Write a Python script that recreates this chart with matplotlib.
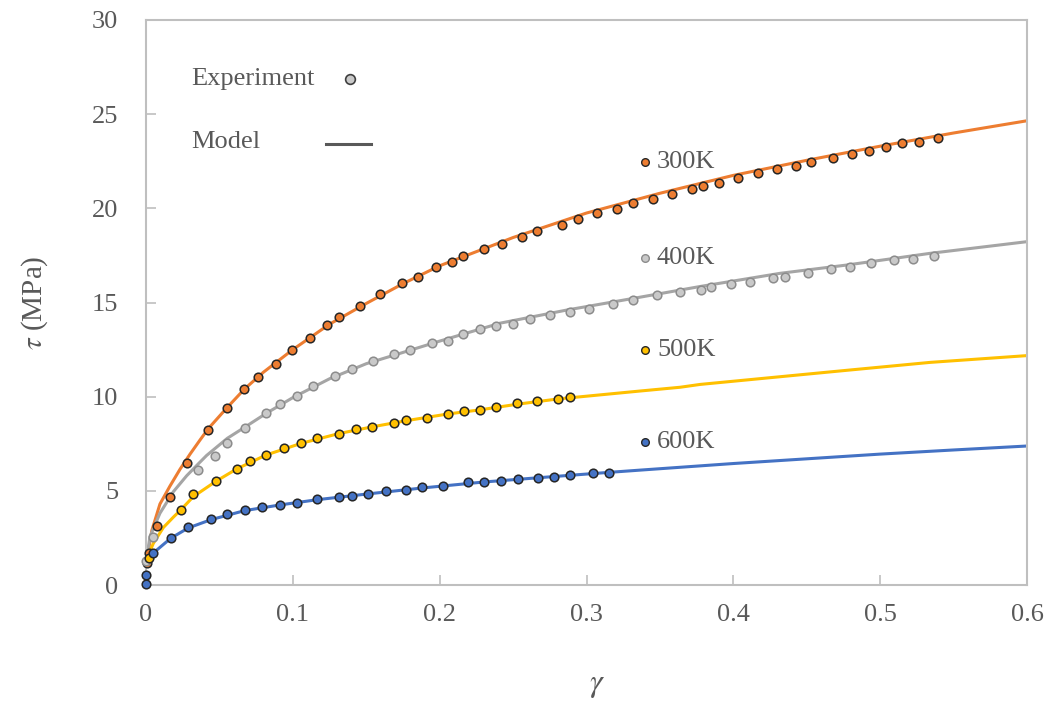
import matplotlib
matplotlib.use("Agg")
import matplotlib.pyplot as plt

# ---- experimental data (gamma, tau in MPa) ----
exp_300_x = [0.0005, 0.002, 0.0077, 0.0161, 0.0279, 0.0424, 0.0554, 0.0666, 0.0763, 0.0884,
             0.0995, 0.1115, 0.1233, 0.1317, 0.1460, 0.1594, 0.1746, 0.1855, 0.1974, 0.2082,
             0.2162, 0.2302, 0.2423, 0.2561, 0.2666, 0.2834, 0.2945, 0.3072, 0.3208, 0.3317,
             0.3456, 0.3583, 0.3719, 0.3792, 0.3903, 0.4033, 0.4167, 0.4296, 0.4426, 0.4528,
             0.4680, 0.4809, 0.4921, 0.5041, 0.5150, 0.5266, 0.5395]
exp_300_y = [1.15, 1.72, 3.12, 4.67, 6.48, 8.23, 9.41, 10.42, 11.04, 11.73,
             12.46, 13.10, 13.82, 14.25, 14.81, 15.45, 16.04, 16.37, 16.89, 17.17,
             17.47, 17.82, 18.11, 18.46, 18.81, 19.10, 19.45, 19.73, 19.96, 20.27,
             20.48, 20.74, 21.01, 21.17, 21.33, 21.59, 21.89, 22.09, 22.25, 22.46,
             22.67, 22.89, 23.04, 23.24, 23.45, 23.52, 23.73]

exp_400_x = [0.0, 0.005, 0.0352, 0.0472, 0.0554, 0.0677, 0.0820, 0.0913, 0.1031, 0.1140,
             0.1285, 0.1403, 0.1544, 0.1689, 0.1799, 0.1946, 0.2055, 0.2162, 0.2275, 0.2386,
             0.2502, 0.2616, 0.2750, 0.2888, 0.3016, 0.3181, 0.3320, 0.3483, 0.3640, 0.3779,
             0.3849, 0.3985, 0.4114, 0.4273, 0.4353, 0.4507, 0.4664, 0.4793, 0.4939, 0.5093,
             0.5223, 0.5368]
exp_400_y = [1.25, 2.54, 6.11, 6.83, 7.54, 8.35, 9.11, 9.61, 10.04, 10.58,
             11.10, 11.47, 11.89, 12.25, 12.47, 12.83, 12.97, 13.33, 13.59, 13.75,
             13.84, 14.12, 14.34, 14.48, 14.67, 14.90, 15.12, 15.40, 15.56, 15.66,
             15.81, 15.97, 16.11, 16.32, 16.37, 16.55, 16.76, 16.89, 17.10, 17.24,
             17.31, 17.47]

exp_500_x = [0.0023, 0.0235, 0.0322, 0.0475, 0.0617, 0.0708, 0.0817, 0.0937, 0.1056, 0.1167,
             0.1313, 0.1433, 0.1542, 0.1689, 0.1769, 0.1916, 0.2055, 0.2164, 0.2275, 0.2386,
             0.2529, 0.2666, 0.2807, 0.2888]
exp_500_y = [1.44, 3.98, 4.83, 5.54, 6.16, 6.60, 6.90, 7.25, 7.54, 7.81,
             8.04, 8.27, 8.39, 8.60, 8.74, 8.89, 9.10, 9.24, 9.31, 9.47,
             9.68, 9.75, 9.89, 9.98]

exp_600_x = [0.0, 0.0002, 0.005, 0.0168, 0.0288, 0.0443, 0.0554, 0.0672, 0.0792, 0.0912,
             0.1031, 0.1167, 0.1313, 0.1403, 0.1515, 0.1633, 0.1769, 0.1880, 0.2025, 0.2193,
             0.2302, 0.2420, 0.2532, 0.2668, 0.2779, 0.2888, 0.3043, 0.3152]
exp_600_y = [0.05, 0.55, 1.69, 2.48, 3.06, 3.49, 3.75, 3.97, 4.13, 4.25,
             4.34, 4.55, 4.69, 4.74, 4.83, 4.97, 5.04, 5.19, 5.26, 5.47,
             5.47, 5.54, 5.61, 5.68, 5.75, 5.82, 5.96, 5.96]

# ---- model curves (gamma, tau in MPa) ----
mod_300_x = [0.0, 0.002, 0.004, 0.0095, 0.0163, 0.0232, 0.030, 0.0368, 0.0424, 0.055, 0.067,
             0.080, 0.100, 0.125, 0.150, 0.175, 0.200, 0.250, 0.300, 0.350, 0.400, 0.450,
             0.500, 0.550, 0.600]
mod_300_y = [1.0, 2.0, 2.9, 4.3, 5.25, 6.15, 6.95, 7.7, 8.3, 9.4, 10.4,
             11.3, 12.5, 13.85, 14.95, 16.0, 16.95, 18.45, 19.75, 20.8, 21.75, 22.55,
             23.3, 24.0, 24.65]

mod_400_x = [0.0, 0.0027, 0.0095, 0.0186, 0.0277, 0.0352, 0.0413, 0.0554, 0.0677, 0.082,
             0.100, 0.125, 0.150, 0.173, 0.200, 0.241, 0.2866, 0.332, 0.3774, 0.4319,
             0.4773, 0.534, 0.600]
mod_400_y = [1.2, 2.57, 3.81, 4.95, 5.8, 6.4, 6.88, 7.79, 8.4, 9.12,
             9.95, 10.95, 11.75, 12.3, 12.95, 13.9, 14.6, 15.22, 15.85, 16.55,
             16.99, 17.61, 18.23]

mod_500_x = [0.0, 0.005, 0.0118, 0.0186, 0.0236, 0.0322, 0.0475, 0.0617, 0.0817, 0.1056,
             0.1313, 0.1542, 0.1769, 0.2055, 0.2275, 0.2529, 0.2807, 0.3365, 0.3638, 0.3774,
             0.4773, 0.534, 0.600]
mod_500_y = [1.3, 2.21, 3.05, 3.6, 3.98, 4.69, 5.5, 6.16, 6.9, 7.52,
             8.04, 8.4, 8.72, 9.08, 9.3, 9.6, 9.88, 10.3, 10.5, 10.65,
             11.4, 11.82, 12.18]

mod_600_x = [0.0, 0.005, 0.0168, 0.0288, 0.0443, 0.0672, 0.0912, 0.1167, 0.1515, 0.1880,
             0.2302, 0.2779, 0.3152, 0.3365, 0.400, 0.450, 0.500, 0.550, 0.600]
mod_600_y = [1.3, 1.70, 2.48, 3.03, 3.47, 3.95, 4.25, 4.53, 4.84, 5.15,
             5.47, 5.76, 5.98, 6.1, 6.45, 6.7, 6.95, 7.17, 7.38]

temps = ["300K", "400K", "500K", "600K"]
label_y = [22.46, 17.36, 12.48, 7.59]

x_ticks = [0, 0.1, 0.2, 0.3, 0.4, 0.5, 0.6]
x_tick_labels = ["0", "0.1", "0.2", "0.3", "0.4", "0.5", "0.6"]
y_ticks = [0, 5, 10, 15, 20, 25, 30]

# ---- styling ----
line_colors = ["#ED7D31", "#A5A5A5", "#FFC000", "#4472C4"]
face_colors = ["#ED7D31", "#C9C9C9", "#FFC000", "#4472C4"]
edge_colors = ["#262626", "#8C8C8C", "#262626", "#262626"]
text_color = "#595959"

plt.rcParams["font.family"] = ["Liberation Serif", "DejaVu Serif"]
plt.rcParams["mathtext.fontset"] = "stix"

fig = plt.figure(figsize=(10.48, 7.03), dpi=100)
ax = fig.add_axes([146 / 1048, 118 / 703, 881 / 1048, 565 / 703])

models = [(mod_300_x, mod_300_y), (mod_400_x, mod_400_y),
          (mod_500_x, mod_500_y), (mod_600_x, mod_600_y)]
exps = [(exp_300_x, exp_300_y), (exp_400_x, exp_400_y),
        (exp_500_x, exp_500_y), (exp_600_x, exp_600_y)]

for (mx, my), c in zip(models, line_colors):
    ax.plot(mx, my, color=c, lw=2.2, solid_capstyle="round", solid_joinstyle="round", zorder=2)

for (ex, ey), fc, ec in zip(exps, face_colors, edge_colors):
    ax.plot(ex, ey, ls="none", marker="o", ms=6.2, mfc=fc, mec=ec, mew=1.1,
            zorder=3, clip_on=False)

# series labels with a small marker each
for t, ly, fc, ec in zip(temps, label_y, face_colors, edge_colors):
    ax.plot([0.34], [ly], ls="none", marker="o", ms=5.5, mfc=fc, mec=ec, mew=1.0, zorder=3)
    ax.text(0.348, ly, t, fontsize=19, color=text_color, va="center", ha="left")

# key
ax.text(0.0305, 26.85, "Experiment", fontsize=19, color=text_color, va="center", ha="left")
ax.plot([0.139], [26.87], ls="none", marker="o", ms=7, mfc="#C9C9C9", mec="#3F3F3F", mew=1.2)
ax.text(0.0305, 23.5, "Model", fontsize=19, color=text_color, va="center", ha="left")
ax.plot([0.1226, 0.1533], [23.42, 23.42], color="#595959", lw=2.2)

ax.set_xlim(0, 0.6)
ax.set_ylim(0, 30)
ax.set_xticks(x_ticks)
ax.set_xticklabels(x_tick_labels)
ax.set_yticks(y_ticks)

for s in ax.spines.values():
    s.set_color("#BFBFBF")
    s.set_linewidth(1.5)

ax.tick_params(axis="both", direction="in", length=7, width=1.2, color="#BFBFBF",
               labelsize=19, labelcolor=text_color)
ax.tick_params(axis="x", pad=14)
ax.tick_params(axis="y", pad=20)

ax.set_xlabel(r"$\gamma$", fontsize=23, color=text_color)
ax.xaxis.set_label_coords((597 - 146) / 881, -0.152)
ax.set_ylabel(r"$\tau$ (MPa)", fontsize=21, color=text_color, labelpad=30)

fig.savefig("out.png", dpi=100)
